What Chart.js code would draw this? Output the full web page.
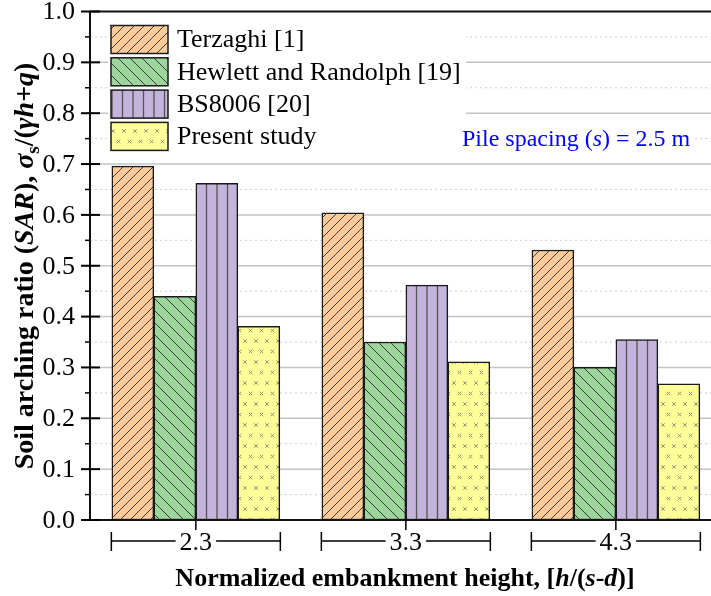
<!DOCTYPE html>
<html>
<head>
<meta charset="utf-8">
<script src="https://cdn.jsdelivr.net/npm/chart.js@4.4.1/dist/chart.umd.min.js"></script>
<style>
html, body { margin: 0; padding: 0; background: #fff; }
#wrap { width: 711px; height: 596px; }
</style>
</head>
<body>
<div id="wrap"><canvas id="c" width="711" height="596"></canvas></div>
<script>
// normalized embankment height h/(s-d)
const heights = [2.3, 3.3, 4.3];
const heightLabels = ['2.3', '3.3', '4.3'];
// soil arching ratio per method
const terzaghi = [0.696, 0.604, 0.531];
const hewlett = [0.440, 0.350, 0.300];
const bs8006 = [0.662, 0.462, 0.355];
const present = [0.381, 0.311, 0.268];
const seriesNames = ['Terzaghi [1]', 'Hewlett and Randolph [19]', 'BS8006 [20]', 'Present study'];
const yTicks = [0, 0.1, 0.2, 0.3, 0.4, 0.5, 0.6, 0.7, 0.8, 0.9, 1.0];
const yTickLabels = ['0.0', '0.1', '0.2', '0.3', '0.4', '0.5', '0.6', '0.7', '0.8', '0.9', '1.0'];

const FONT = 'Liberation Serif';
const canvas = document.getElementById('c');
const ctx0 = canvas.getContext('2d');

function makePattern(w, h, bg, paint, dx) {
    const t = document.createElement('canvas');
    t.width = w;
    t.height = h;
    const g = t.getContext('2d');
    g.fillStyle = bg;
    g.fillRect(0, 0, w, h);
    paint(g);
    const p = ctx0.createPattern(t, 'repeat');
    if (dx) p.setTransform(new DOMMatrix().translate(dx, 0));
    return p;
}

const fillTerzaghi = makePattern(10, 10, '#FFCC99', g => {
    g.strokeStyle = '#3a3a3a';
    g.lineWidth = 1;
    g.beginPath();
    g.moveTo(-5, 5); g.lineTo(5, -5);
    g.moveTo(-1, 11); g.lineTo(11, -1);
    g.moveTo(5, 15); g.lineTo(15, 5);
    g.stroke();
});
const fillHewlett = makePattern(12, 12, '#9CD69C', g => {
    g.strokeStyle = '#3a3a3a';
    g.lineWidth = 1;
    g.beginPath();
    g.moveTo(-6, 6); g.lineTo(6, 18);
    g.moveTo(-1, -1); g.lineTo(13, 13);
    g.moveTo(6, -6); g.lineTo(18, 6);
    g.stroke();
});
const fillBS = makePattern(21, 10, '#C4B3DA', g => {
    g.strokeStyle = '#555';
    g.lineWidth = 1.3;
    g.beginPath();
    g.moveTo(5, 0); g.lineTo(5, 10);
    g.moveTo(15.5, 0); g.lineTo(15.5, 10);
    g.stroke();
}, 2);
const fillPresent = makePattern(11, 21, '#FFFF99', g => {
    g.strokeStyle = '#8a8a70';
    g.lineWidth = 0.9;
    const cross = (x, y) => {
        g.moveTo(x - 1.8, y - 1.8); g.lineTo(x + 1.8, y + 1.8);
        g.moveTo(x + 1.8, y - 1.8); g.lineTo(x - 1.8, y + 1.8);
    };
    g.beginPath();
    cross(3, 5);
    cross(8.5, 15.5);
    g.stroke();
});

const seriesValues = [terzaghi, hewlett, bs8006, present];
const seriesFills = [fillTerzaghi, fillHewlett, fillBS, fillPresent];

function drawRuns(ctx, runs, x, y) {
    // runs: [text, font, dy]
    let cx = x;
    runs.forEach(r => {
        ctx.font = r[1];
        ctx.fillText(r[0], cx, y + (r[2] || 0));
        cx += ctx.measureText(r[0]).width;
    });
}
function runsWidth(ctx, runs) {
    let w = 0;
    runs.forEach(r => { ctx.font = r[1]; w += ctx.measureText(r[0]).width; });
    return w;
}

const decorations = {
    id: 'decorations',
    beforeDatasetsDraw(chart) {
        const ctx = chart.ctx;
        const area = chart.chartArea;
        const y = chart.scales.y;
        ctx.save();
        for (let i = 0; i < yTicks.length - 1; i++) {
            const mid = (yTicks[i] + yTicks[i + 1]) / 2;
            const py = y.getPixelForValue(mid);
            ctx.strokeStyle = '#cfcfcf';
            ctx.lineWidth = 1;
            ctx.setLineDash([2, 3]);
            ctx.beginPath(); ctx.moveTo(area.left, py); ctx.lineTo(area.right, py); ctx.stroke();
            if (i > 0) {
                const pm = y.getPixelForValue(yTicks[i]);
                ctx.setLineDash([]);
                ctx.strokeStyle = '#c4c4c4';
                ctx.lineWidth = 1.5;
                ctx.beginPath(); ctx.moveTo(area.left, pm); ctx.lineTo(area.right, pm); ctx.stroke();
            }
        }
        ctx.restore();
    },
    afterDraw(chart) {
        const ctx = chart.ctx;
        const area = chart.chartArea;
        const x = chart.scales.x;
        const y = chart.scales.y;
        ctx.save();

        // legend
        ctx.fillStyle = '#fff';
        ctx.fillRect(108, 17, 358, 139);
        seriesNames.forEach((name, i) => {
            const by = 25.5 + i * 32.3;
            ctx.fillStyle = seriesFills[i];
            ctx.fillRect(111, by, 57, 28);
            ctx.strokeStyle = '#1a1a1a';
            ctx.lineWidth = 1.5;
            ctx.strokeRect(111, by, 57, 28);
            ctx.fillStyle = '#000';
            ctx.font = '26px ' + FONT;
            ctx.textBaseline = 'middle';
            ctx.textAlign = 'left';
            ctx.fillText(name, 177, by + 15);
        });

        // annotation
        ctx.fillStyle = '#fff';
        ctx.fillRect(458, 124, 236, 30);
        ctx.fillStyle = '#0000ff';
        ctx.textBaseline = 'middle';
        drawRuns(ctx, [
            ['Pile spacing (', '24px ' + FONT],
            ['s', 'italic 24px ' + FONT],
            [') = 2.5 m', '24px ' + FONT]
        ], 462, 140);

        // axes frame
        ctx.strokeStyle = '#111';
        ctx.lineWidth = 2;
        ctx.beginPath();
        ctx.moveTo(area.left, area.top); ctx.lineTo(area.right, area.top);
        ctx.moveTo(area.left, area.top); ctx.lineTo(area.left, area.bottom);
        ctx.moveTo(81, area.bottom); ctx.lineTo(area.right, area.bottom);
        ctx.stroke();

        // y ticks and labels
        ctx.strokeStyle = '#000';
        ctx.fillStyle = '#000';
        ctx.font = '26px ' + FONT;
        ctx.textAlign = 'right';
        ctx.textBaseline = 'middle';
        yTicks.forEach((v, i) => {
            const py = y.getPixelForValue(v);
            ctx.lineWidth = 2;
            ctx.beginPath(); ctx.moveTo(81, py); ctx.lineTo(100, py); ctx.stroke();
            ctx.fillText(yTickLabels[i], 75, py + 1);
            if (i < yTicks.length - 1) {
                const pm = y.getPixelForValue((v + yTicks[i + 1]) / 2);
                ctx.lineWidth = 1.5;
                ctx.beginPath(); ctx.moveTo(85, pm); ctx.lineTo(area.left, pm); ctx.stroke();
            }
        });

        // x brackets
        ctx.textAlign = 'center';
        ctx.textBaseline = 'middle';
        heights.forEach((h, i) => {
            const cx = x.getPixelForValue(h);
            const half = 84.5;
            const tw = ctx.measureText(heightLabels[i]).width;
            ctx.lineWidth = 1.5;
            ctx.beginPath();
            ctx.moveTo(cx, area.bottom); ctx.lineTo(cx, area.bottom + 10);
            ctx.moveTo(cx - half, 532); ctx.lineTo(cx - half, 551);
            ctx.moveTo(cx + half, 532); ctx.lineTo(cx + half, 551);
            ctx.moveTo(cx - half, 541); ctx.lineTo(cx - tw / 2 - 4, 541);
            ctx.moveTo(cx + tw / 2 + 4, 541); ctx.lineTo(cx + half, 541);
            ctx.stroke();
            ctx.fillText(heightLabels[i], cx, 543);
        });

        // x title
        const B = 'bold 26px ' + FONT;
        const BI = 'italic bold 26px ' + FONT;
        const xRuns = [
            ['Normalized embankment height, [', B], ['h', BI], ['/(', B],
            ['s', BI], ['-', B], ['d', BI], [')]', B]
        ];
        ctx.textAlign = 'left';
        ctx.textBaseline = 'alphabetic';
        drawRuns(ctx, xRuns, 405 - runsWidth(ctx, xRuns) / 2, 586);

        // y title
        const YB = 'bold 28px ' + FONT;
        const YBI = 'italic bold 28px ' + FONT;
        const S = 'bold 19px ' + FONT;
        const yRuns = [
            ['Soil arching ratio (', YB], ['SAR', YBI], ['), ', YB], ['\u03c3', YBI],
            ['s', S, 6], ['/(', YB], ['\u03b3h+q', YBI], [')', YB]
        ];
        ctx.translate(33, 266);
        ctx.rotate(-Math.PI / 2);
        drawRuns(ctx, yRuns, -runsWidth(ctx, yRuns) / 2, 0);
        ctx.restore();
    }
};

new Chart(canvas, {
    type: 'bar',
    data: {
        datasets: seriesNames.map((name, i) => ({
            label: name,
            data: heights.map((h, j) => ({ x: h, y: seriesValues[i][j] })),
            backgroundColor: seriesFills[i],
            borderColor: '#1a1a1a',
            borderWidth: 1.5,
            borderSkipped: false,
            barThickness: 42
        }))
    },
    options: {
        responsive: false,
        animation: false,
        events: [],
        layout: { padding: { top: 11.5, left: 0, right: 0, bottom: 0 } },
        scales: {
            x: {
                type: 'linear',
                min: 1.796,
                max: 4.753,
                offset: false,
                afterBuildTicks: (scale) => { scale.ticks = heights.map(v => ({ value: v })); },
                afterFit: (scale) => { scale.height = 76; },
                ticks: { display: false },
                grid: { display: false },
                border: { display: false }
            },
            y: {
                min: 0,
                max: 1,
                afterBuildTicks: (scale) => { scale.ticks = yTicks.map(v => ({ value: v })); },
                afterFit: (scale) => { scale.width = 90; },
                ticks: { display: false },
                grid: { display: false },
                border: { display: false }
            }
        },
        plugins: {
            legend: { display: false },
            tooltip: { enabled: false }
        }
    },
    plugins: [decorations]
});
</script>
</body>
</html>
